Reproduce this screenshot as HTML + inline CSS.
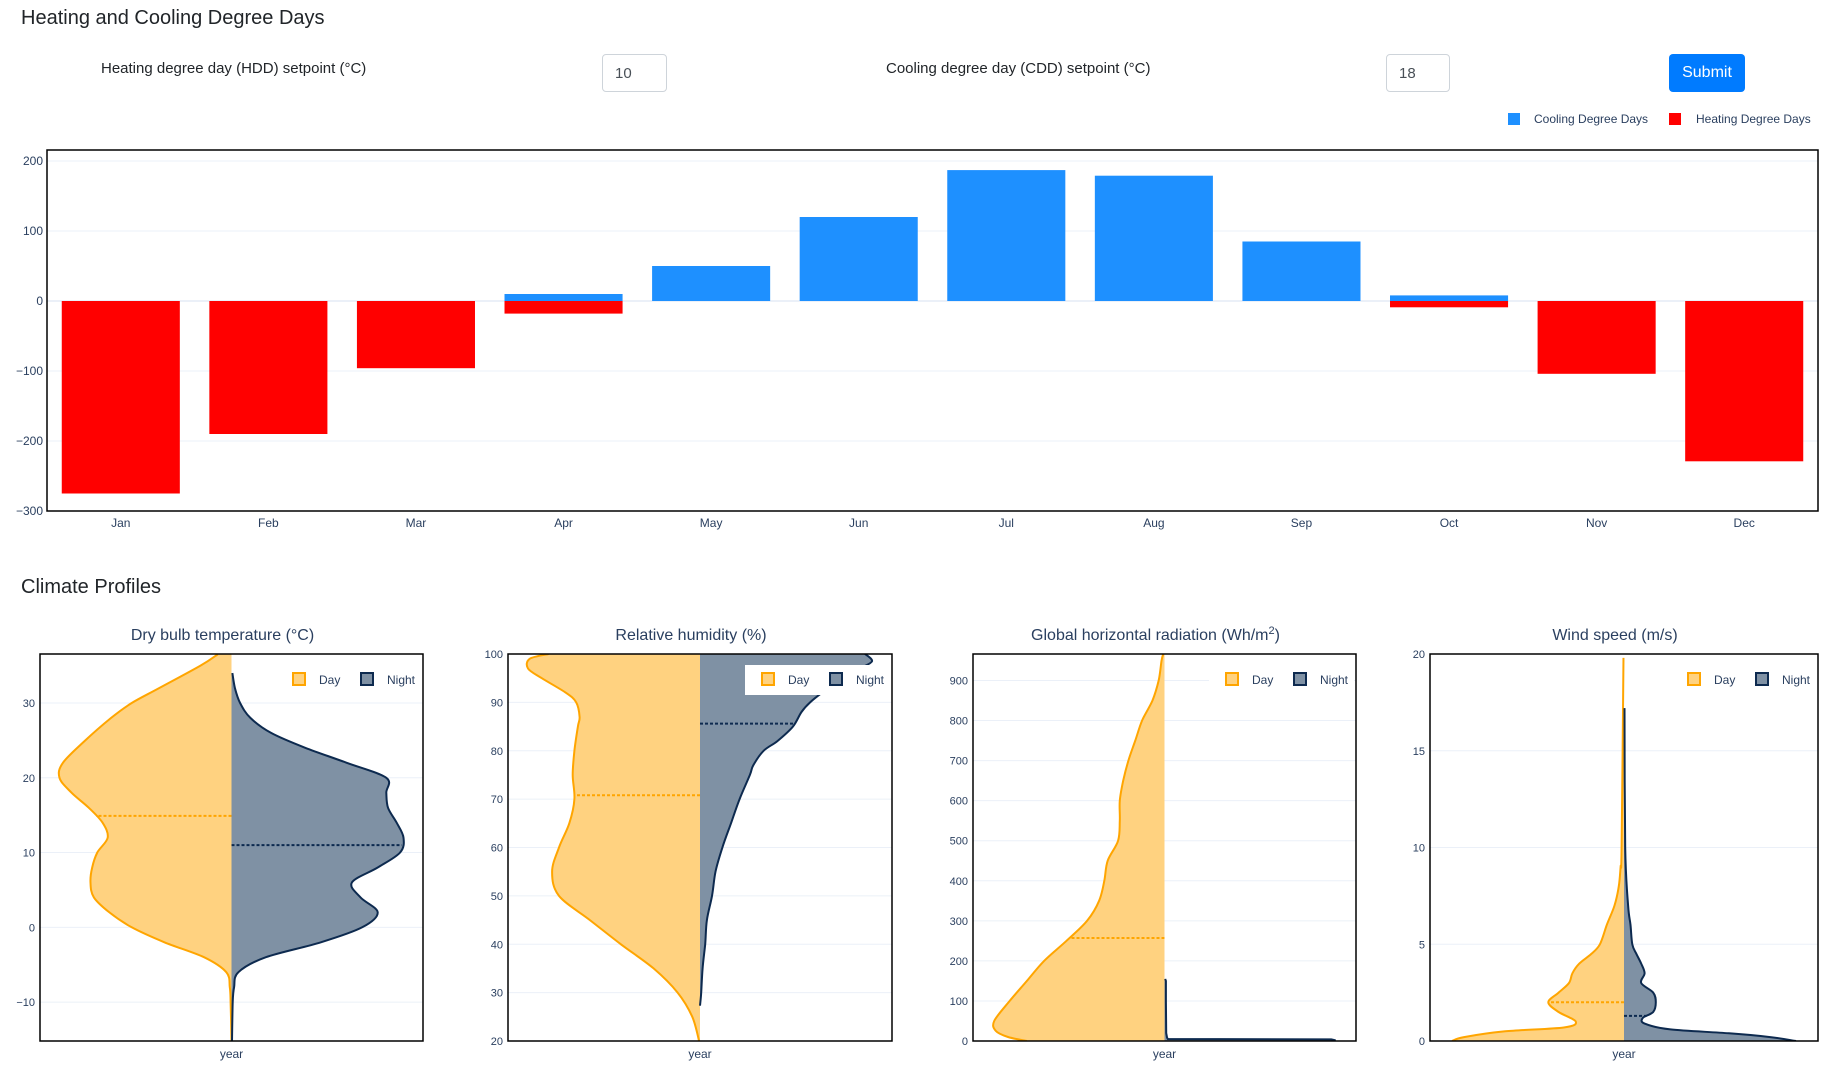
<!DOCTYPE html>
<html><head><meta charset="utf-8">
<style>
body{margin:0;width:1839px;height:1069px;background:#fff;font-family:"Liberation Sans",sans-serif;position:relative;overflow:hidden}
.h{position:absolute;color:#212529;font-size:20px;margin:0;font-weight:normal}
.lbl{position:absolute;font-size:15px;color:#212529}
.inp{position:absolute;box-sizing:border-box;border:1px solid #ced4da;border-radius:4px;font-size:15px;color:#495057;padding:9px 12px;font-family:"Liberation Sans",sans-serif;background:#fff}
.btn{position:absolute;background:#007bff;color:#fff;border:none;border-radius:4px;font-size:16px;font-family:"Liberation Sans",sans-serif}
svg{position:absolute;left:0;top:0}
</style></head><body>
<h2 class="h" style="left:21px;top:7px">Heating and Cooling Degree Days</h2>
<div class="lbl" style="left:101px;top:60px">Heating degree day (HDD) setpoint (°C)</div>
<input class="inp" value="10" style="left:602px;top:54px;width:65px;height:38px">
<div class="lbl" style="left:886px;top:60px">Cooling degree day (CDD) setpoint (°C)</div>
<input class="inp" value="18" style="left:1386px;top:54px;width:64px;height:38px">
<button class="btn" style="left:1669px;top:54px;width:76px;height:38px">Submit</button>
<h2 class="h" style="left:21px;top:576px">Climate Profiles</h2>
<svg id="s" width="1839" height="1069"></svg>
<script>
const months=["Jan","Feb","Mar","Apr","May","Jun","Jul","Aug","Sep","Oct","Nov","Dec"];
const cdd=[0,0,0,10,50,120,187,179,85,8,0,0];
const hdd=[-275,-190,-96,-18,0,0,0,0,0,-9,-104,-229];
const barTicks=[200,100,0,-100,-200,-300];

const p1DayY=[36.5,35,32,30,28,25,22,20,18,16,14,12,10,8,6,4,2,0,-2,-4,-6,-8,-10,-15.2];
const p1DayD=[.08,.18,.42,.58,.70,.85,.98,1.0,.93,.83,.75,.72,.78,.81,.82,.80,.71,.58,.39,.16,.03,.01,.005,0];
const p1NightY=[34,32,30,28,26,24,22,20,18,16,14,12,10,8,6,4,2,0,-2,-4,-6,-8,-10,-15.2];
const p1NightD=[.005,.02,.05,.11,.23,.43,.67,.90,.90,.91,.96,1.0,.98,.85,.70,.75,.85,.76,.52,.20,.04,.015,.007,.003];
const p2DayY=[100,99,97,95,92,90,87,85,80,75,70,65,60,55,50,45,40,35,30,25,20];
const p2DayD=[.88,.99,1.0,.92,.78,.72,.70,.71,.73,.74,.73,.76,.82,.86,.82,.64,.46,.27,.13,.045,.005];
const p2NightY=[100,98.5,97,95,92,90,88,85,82,80,77,75,70,65,60,55,50,45,40,35,30,27.3];
const p2NightD=[.96,1.0,.93,.83,.71,.64,.59,.54,.45,.37,.31,.29,.23,.18,.13,.09,.07,.04,.03,.015,.007,0];
const p3DayY=[966,950,900,850,800,750,700,650,600,550,500,450,400,350,300,250,200,150,100,50,25,10,0];
const p3DayD=[.007,.017,.034,.07,.13,.17,.21,.24,.26,.26,.27,.33,.35,.38,.45,.57,.70,.80,.90,.99,.98,.91,.80];
const p3NightY=[155,150,100,20,8,5,4,2,0];
const p3NightD=[.004,.008,.008,.01,.015,.02,.97,.99,.99];
const p4DayY=[19.8,10,9,8,7,6,5,4.5,4,3.5,3,2.5,2,1.5,1,0.7,0.5,0.2,0];
const p4DayD=[.003,.014,.02,.03,.055,.10,.14,.19,.26,.30,.32,.38,.44,.38,.28,.35,.69,.93,1.0];
const p4NightY=[17.2,10,7,6,5,4.5,4,3.5,3,2.5,2,1.5,1.2,0.9,0.6,0.4,0.2,0];
const p4NightD=[.003,.007,.024,.038,.048,.072,.10,.12,.10,.17,.185,.17,.11,.12,.27,.61,.85,1.0];
const medians=[[14.9,11],[70.8,85.6],[257,null],[2.0,1.3]];
const p1Ticks=[-10,0,10,20,30],p2Ticks=[20,30,40,50,60,70,80,90,100],p3Ticks=[0,100,200,300,400,500,600,700,800,900],p4Ticks=[0,5,10,15,20];

const NS="http://www.w3.org/2000/svg",S=document.getElementById('s');
function mk(t,a,p){const e=document.createElementNS(NS,t);for(const k in a)e.setAttribute(k,a[k]);(p||S).appendChild(e);return e;}
const TC="#2a3f5f",GC="#ebf0f8";
const bx0=47,bx1=1818,by0=150,by1=511;
const yB=v=>301-v*0.70;
const bw=(bx1-bx0)/12;
const xB=i=>bx0+bw*(i+0.5);
barTicks.forEach(t=>{
  if(t>-300){const g=mk('line',{x1:bx0,x2:bx1,y1:yB(t),y2:yB(t),stroke:GC,'stroke-width':t===0?2:1});
  }
  const l=mk('text',{x:bx0-4,y:yB(t)+4,'text-anchor':'end','font-size':12,fill:TC});l.textContent=t<0?'\u2212'+(-t):t;
  
});
months.forEach((m,i)=>{
  const w=bw*0.8;
  if(cdd[i]){const r=mk('rect',{x:xB(i)-w/2,y:yB(cdd[i]),width:w,height:yB(0)-yB(cdd[i]),fill:'#1e90ff'});
  }
  if(hdd[i]){const r=mk('rect',{x:xB(i)-w/2,y:yB(0),width:w,height:yB(hdd[i])-yB(0),fill:'#ff0000'});
  }
  const l=mk('text',{x:xB(i),y:527,'text-anchor':'middle','font-size':12,fill:TC});l.textContent=m;
  
});
const bf=mk('rect',{x:bx0,y:by0,width:bx1-bx0,height:by1-by0,fill:'none',stroke:'#000','stroke-width':1.5});

[[1508,'#1e90ff',1534,'Cooling Degree Days'],[1669,'#ff0000',1696,'Heating Degree Days']].forEach(a=>{
  const g=mk('g',{});
  mk('rect',{x:a[0],y:113,width:12,height:12,fill:a[1]},g);
  const t=mk('text',{x:a[2],y:123,'font-size':12,fill:TC},g);t.textContent=a[3];
});
const panels=[
 {x0:40,x1:423,lo:-15.2,hi:36.55,ticks:p1Ticks,title:'Dry bulb temperature (°C)',day:[p1DayY,p1DayD],night:[p1NightY,p1NightD],smoothN:true},
 {x0:508,x1:892,lo:20,hi:100,ticks:p2Ticks,title:'Relative humidity (%)',day:[p2DayY,p2DayD],night:[p2NightY,p2NightD],smoothN:true},
 {x0:973,x1:1356,lo:0,hi:966,ticks:p3Ticks,title:'GHR',day:[p3DayY,p3DayD],night:[p3NightY,p3NightD],smoothN:false},
 {x0:1430,x1:1818,lo:0,hi:20,ticks:p4Ticks,title:'Wind speed (m/s)',day:[p4DayY,p4DayD],night:[p4NightY,p4NightD],smoothN:true}];
const vy0=654,vy1=1041,HW=172;
function path(pts,smooth){
  if(!smooth)return 'M'+pts.map(p=>p[0].toFixed(1)+','+p[1].toFixed(1)).join('L');
  let d='M'+pts[0][0]+','+pts[0][1];
  for(let i=0;i<pts.length-1;i++){
    const p0=pts[Math.max(0,i-1)],p1=pts[i],p2=pts[i+1],p3=pts[Math.min(pts.length-1,i+2)];
    const c1=[p1[0]+(p2[0]-p0[0])/6,p1[1]+(p2[1]-p0[1])/6],c2=[p2[0]-(p3[0]-p1[0])/6,p2[1]-(p3[1]-p1[1])/6];
    d+='C'+c1[0].toFixed(1)+','+c1[1].toFixed(1)+' '+c2[0].toFixed(1)+','+c2[1].toFixed(1)+' '+p2[0].toFixed(1)+','+p2[1].toFixed(1);
  }
  return d;
}
function interp(Y,D,v){for(let i=0;i<Y.length-1;i++){const a=Y[i],b=Y[i+1];if((v<=a&&v>=b)){const t=(a-v)/(a-b);return D[i]+(D[i+1]-D[i])*t;}}return 0;}
panels.forEach((P,k)=>{
  const cx=(P.x0+P.x1)/2,yv=v=>vy1-(v-P.lo)/(P.hi-P.lo)*(vy1-vy0);
  const g=mk('g',{});
  const cp=mk('clipPath',{id:'c'+k},g);mk('rect',{x:P.x0,y:vy0,width:P.x1-P.x0,height:vy1-vy0},cp);
  P.ticks.forEach(t=>{
    const gl=mk('line',{x1:P.x0,x2:P.x1,y1:yv(t),y2:yv(t),stroke:GC},g);
    
    const l=mk('text',{x:P.x0-5,y:yv(t)+4,'text-anchor':'end','font-size':11,fill:TC},g);l.textContent=t<0?'\u2212'+(-t):t;
    
  });
  const cg=mk('g',{'clip-path':'url(#c'+k+')'},g);
  [['day',-1,'#ffa500','#ffd280',0],['night',1,'#0d2a4f','#7f91a4',1]].forEach(s=>{
    const Y=P[s[0]][0],D=P[s[0]][1];
    const pts=Y.map((y,i)=>[cx+s[1]*D[i]*HW,yv(y)]);
    const sm=s[0]==='day'||P.smoothN;
    const d='M'+cx+','+yv(Y[0])+'L'+path(pts,sm).slice(1)+'L'+cx+','+yv(Y[Y.length-1])+'Z';
    const f=mk('path',{d:d,fill:s[3],stroke:'none'},cg);
    
    mk('path',{d:path(pts,sm),fill:'none',stroke:s[2],'stroke-width':2},cg);
    const m=medians[k][s[4]];
    if(m!==null){const w=interp(Y,D,m)*HW;
      const ml=mk('line',{x1:cx,x2:cx+s[1]*w,y1:yv(m),y2:yv(m),stroke:s[2],'stroke-width':2,'stroke-dasharray':'3,2'},cg);
      }
  });
  mk('rect',{x:P.x0,y:vy0,width:P.x1-P.x0,height:vy1-vy0,fill:'none',stroke:'#000','stroke-width':1.5},g);
  const lg=mk('g',{},g);
  mk('rect',{x:P.x1-147,y:665,width:145,height:30,fill:'#fff'},lg);
  mk('rect',{x:P.x1-130,y:673,width:12,height:12,fill:'#ffd280',stroke:'#ffa500','stroke-width':2},lg);
  let t=mk('text',{x:P.x1-104,y:684,'font-size':12,fill:TC},lg);t.textContent='Day';
  mk('rect',{x:P.x1-62,y:673,width:12,height:12,fill:'#7f91a4',stroke:'#0d2a4f','stroke-width':2},lg);
  t=mk('text',{x:P.x1-36,y:684,'font-size':12,fill:TC},lg);t.textContent='Night';
  const tt=mk('text',{x:cx-9,y:640,'text-anchor':'middle','font-size':16,fill:TC},g);
  
  if(P.title==='GHR'){tt.textContent='Global horizontal radiation (Wh/m';const sp=mk('tspan',{dy:-6,'font-size':11},tt);sp.textContent='2';const e=mk('tspan',{dy:6},tt);e.textContent=')';}
  else tt.textContent=P.title;
  const yl=mk('text',{x:cx,y:1058,'text-anchor':'middle','font-size':12,fill:TC},g);yl.textContent='year';
  
});
</script>
</body></html>
